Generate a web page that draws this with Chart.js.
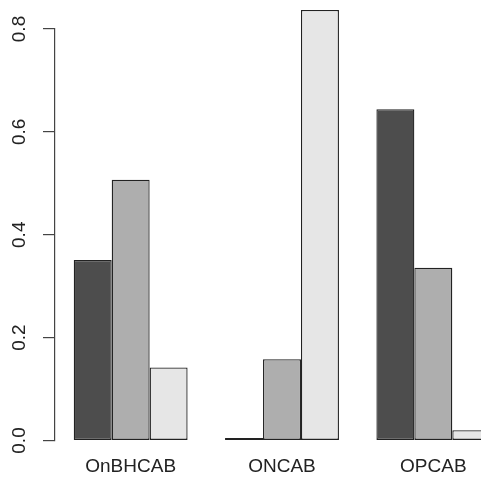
<!DOCTYPE html>
<html>
<head>
<meta charset="utf-8">
<script src="https://cdn.jsdelivr.net/npm/chart.js@4.4.1/dist/chart.umd.min.js"></script>
<style>
  html, body { margin: 0; padding: 0; background: #fff; overflow: hidden; }
  #wrap { width: 512px; height: 479px; }
</style>
</head>
<body>
<div id="wrap"><canvas id="graph"></canvas></div>
<script>
// groups along the x axis
const groups = ['OnBHCAB', 'ONCAB', 'OPCAB']
// one series per bar shade (rows of the R matrix)
const seriesNames = ['row 1', 'row 2', 'row 3']
const darkValues = [0.351, 0.005, 0.644]
const midValues = [0.507, 0.158, 0.336]
const lightValues = [0.142, 0.837, 0.020]
const yTicks = [0.0, 0.2, 0.4, 0.6, 0.8]

const fills = ['#4d4d4d', '#aeaeae', '#e6e6e6']
const ink = '#222222'

function makeSet(i, values) {
  return {
    label: seriesNames[i],
    data: values,
    backgroundColor: fills[i],
    borderColor: ink,
    borderWidth: 1.3,
    borderSkipped: false,
    categoryPercentage: 0.7525,
    barPercentage: 1.0,
    clip: false
  }
}

var ctx = document.getElementById('graph')

new Chart(ctx, {
  type: 'bar',
  data: {
    labels: groups,
    datasets: [
      makeSet(0, darkValues),
      makeSet(1, midValues),
      makeSet(2, lightValues)
    ]
  },
  options: {
    responsive: true,
    maintainAspectRatio: false,
    animation: false,
    layout: { padding: { top: 29, right: 3, left: 0, bottom: 0 } },
    plugins: {
      legend: { display: false },
      tooltip: { enabled: false }
    },
    scales: {
      x: {
        grid: { display: false, drawTicks: false },
        border: { display: false },
        afterFit: function(scale) { scale.height = 38.5 },
        ticks: {
          color: ink,
          padding: 15,
          maxRotation: 0,
          font: { family: '"Liberation Sans", Arial, sans-serif', size: 19 }
        }
      },
      y: {
        min: 0,
        max: 0.8,
        afterBuildTicks: function(scale) {
          scale.ticks = yTicks.map(v => ({ value: v }))
        },
        afterFit: function(scale) { scale.width = 55 },
        grid: {
          drawOnChartArea: false,
          drawTicks: true,
          tickLength: 12,
          color: '#444',
          lineWidth: 1.2
        },
        border: { display: true, color: '#444', width: 1.2 },
        ticks: {
          color: ink,
          minRotation: 90,
          maxRotation: 90,
          crossAlign: 'center',
          // blank second line nudges the rotated label away from the axis
          callback: v => [v.toFixed(1), ''],
          font: { family: '"Liberation Sans", Arial, sans-serif', size: 19, lineHeight: 0.75 }
        }
      }
    }
  }
})
</script>
</body>
</html>
